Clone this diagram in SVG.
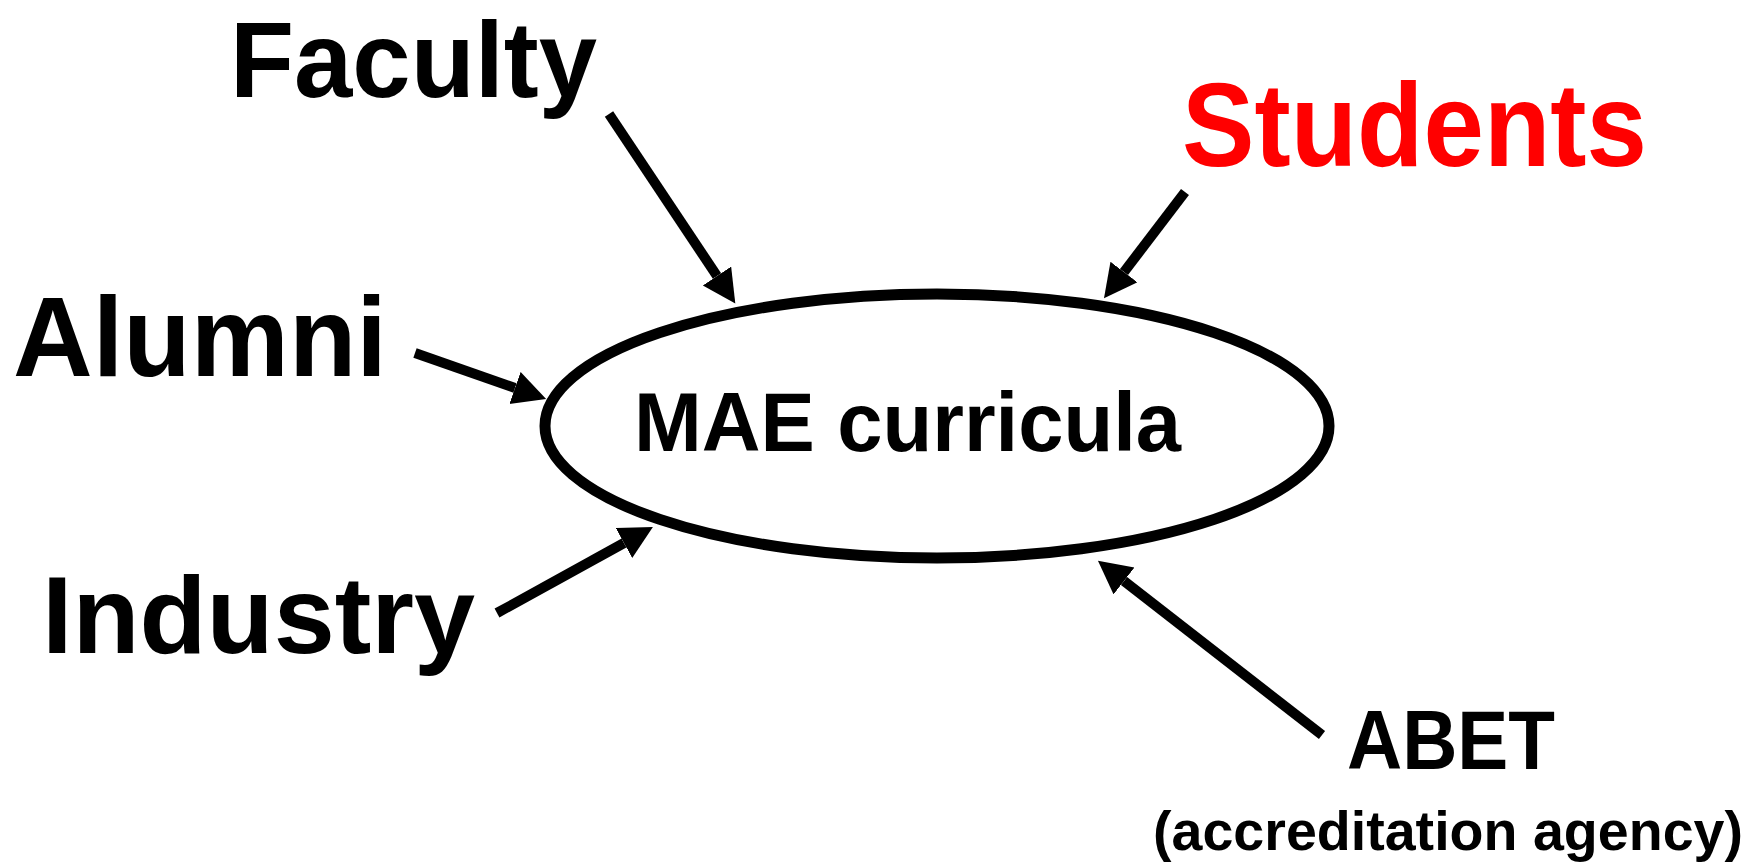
<svg xmlns="http://www.w3.org/2000/svg" width="1760" height="866" viewBox="0 0 1760 866">
<style>
.lbl{font-family:"Liberation Sans",Arial,sans-serif;font-weight:bold;fill:#000}
.conn{stroke:#000;stroke-width:10;fill:none;marker-end:url(#ah)}
</style>
<defs>
<marker id="ah" markerUnits="userSpaceOnUse" markerWidth="40" markerHeight="40" refX="0" refY="17" orient="auto" viewBox="0 0 40 40">
<path d="M0,0 L33,17 L0,34 z" fill="#000"/>
</marker>
</defs>
<rect width="1760" height="866" fill="#fff"/>
<g id="node-mae">
<ellipse cx="937" cy="426" rx="392" ry="132" fill="none" stroke="#000" stroke-width="11"/>
<text class="lbl" x="634" y="451" font-size="84" textLength="547" lengthAdjust="spacingAndGlyphs">MAE curricula</text>
</g>
<g id="node-faculty"><text class="lbl" x="230" y="97" font-size="108" textLength="367" lengthAdjust="spacingAndGlyphs">Faculty</text></g>
<g id="node-students"><text class="lbl" x="1182" y="166" font-size="118" textLength="465" lengthAdjust="spacingAndGlyphs" style="fill:#ff0000">Students</text></g>
<g id="node-alumni"><text class="lbl" x="13" y="376" font-size="114" textLength="374" lengthAdjust="spacingAndGlyphs">Alumni</text></g>
<g id="node-industry"><text class="lbl" x="42" y="653" font-size="110" textLength="433" lengthAdjust="spacingAndGlyphs">Industry</text></g>
<g id="node-abet">
<text class="lbl" x="1347" y="769" font-size="83" textLength="208" lengthAdjust="spacingAndGlyphs">ABET</text>
<text class="lbl" x="1153" y="850" font-size="56" textLength="590" lengthAdjust="spacingAndGlyphs">(accreditation agency)</text>
</g>
<g id="connectors">
<line class="conn" x1="609" y1="114" x2="717" y2="276"/>
<line class="conn" x1="1185" y1="192" x2="1124" y2="272"/>
<line class="conn" x1="415" y1="353" x2="515" y2="388"/>
<line class="conn" x1="497" y1="613" x2="624" y2="543"/>
<line class="conn" x1="1322" y1="735" x2="1124" y2="581"/>
</g>
</svg>
